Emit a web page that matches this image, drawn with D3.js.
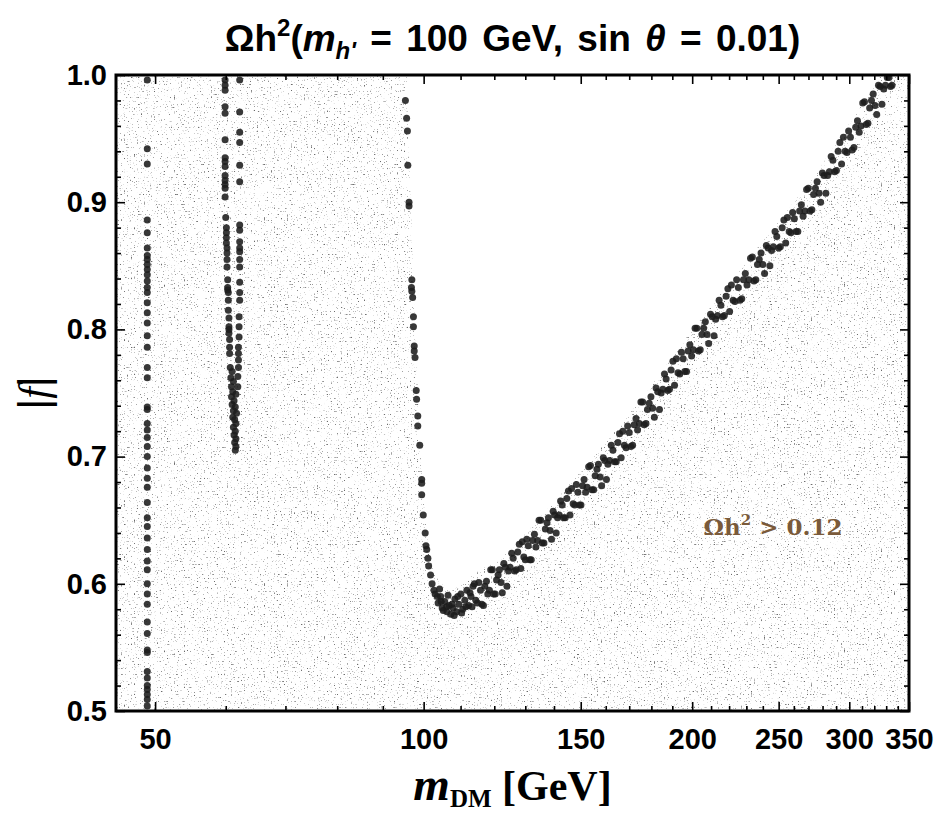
<!DOCTYPE html>
<html>
<head>
<meta charset="utf-8">
<script src="https://cdn.jsdelivr.net/npm/d3@7"></script>
<style>
  body { margin: 0; background: #fff; }
</style>
</head>
<body>
<svg id="chart"></svg>
<script>
// Relic density scan: |f| vs m_DM, points giving the right Ωh² in black

const xTicks = [50, 100, 150, 200, 250, 300, 350];
const xMinor = [60, 70, 80, 90, 110, 120, 130, 140, 160, 170, 180, 190, 210, 220, 230, 240,
                260, 270, 280, 290, 310, 320, 330, 340];
const yTicks = [0.5, 0.6, 0.7, 0.8, 0.9, 1.0];
const yMinor = [0.52, 0.54, 0.56, 0.58, 0.62, 0.64, 0.66, 0.68, 0.72, 0.74, 0.76, 0.78,
                0.82, 0.84, 0.86, 0.88, 0.92, 0.94, 0.96, 0.98];

// column near 49 GeV
const column49 = [
  [49.0, 0.996], [49.0, 0.942], [49.0, 0.930], [49.0, 0.886], [49.0, 0.876], [49.0, 0.864],
  [49.0, 0.858], [49.0, 0.855], [49.0, 0.851], [49.0, 0.847], [49.0, 0.843], [49.0, 0.838],
  [49.0, 0.833], [49.0, 0.829], [49.0, 0.821], [49.0, 0.813], [49.0, 0.805], [49.0, 0.795],
  [49.0, 0.786], [49.0, 0.770], [49.0, 0.762], [49.0, 0.739], [49.0, 0.737], [49.0, 0.726],
  [49.0, 0.721], [49.0, 0.715], [49.0, 0.708], [49.0, 0.700], [49.0, 0.691], [49.0, 0.683],
  [49.0, 0.676], [49.0, 0.664], [49.0, 0.652], [49.0, 0.645], [49.0, 0.636], [49.0, 0.627],
  [49.0, 0.618], [49.0, 0.611], [49.0, 0.600], [49.0, 0.592], [49.0, 0.584], [49.0, 0.570],
  [49.0, 0.561], [49.0, 0.548], [49.0, 0.546], [49.0, 0.531], [49.0, 0.526], [49.0, 0.520],
  [49.0, 0.517], [49.0, 0.513], [49.0, 0.509], [49.0, 0.504]
];

// two columns near 60-62 GeV
const column60 = [
  [59.9, 0.996], [59.9, 0.992], [59.9, 0.988], [59.9, 0.975], [59.9, 0.970], [59.9, 0.949],
  [59.9, 0.935], [59.9, 0.932], [59.9, 0.928], [59.9, 0.921], [59.9, 0.917], [59.9, 0.914],
  [59.9, 0.911], [59.9, 0.904], [60.0, 0.888], [60.1, 0.880], [60.1, 0.876], [60.1, 0.872],
  [60.1, 0.868], [60.2, 0.864], [60.2, 0.860], [60.2, 0.855], [60.2, 0.849], [60.3, 0.839],
  [60.3, 0.833], [60.3, 0.831], [60.4, 0.829], [60.4, 0.823], [60.4, 0.815], [60.5, 0.809],
  [60.5, 0.802], [60.5, 0.800], [60.5, 0.797], [60.6, 0.792], [60.6, 0.786], [60.6, 0.781]
];
const column62 = [
  [62.2, 0.996], [62.2, 0.971], [62.2, 0.955], [62.2, 0.947], [62.2, 0.929], [62.2, 0.916],
  [62.2, 0.882], [62.2, 0.878], [62.2, 0.869], [62.2, 0.864], [62.2, 0.861], [62.2, 0.855],
  [62.2, 0.849], [62.2, 0.837], [62.2, 0.829], [62.2, 0.823], [62.1, 0.810], [62.1, 0.802],
  [62.1, 0.794], [62.0, 0.786], [62.0, 0.781], [62.0, 0.776], [62.0, 0.770], [61.9, 0.763],
  [61.9, 0.755]
];
const cluster61 = [
  [60.7, 0.770], [61.0, 0.767], [60.8, 0.762], [61.2, 0.759], [60.9, 0.755], [61.1, 0.751],
  [61.6, 0.749], [60.9, 0.747], [61.3, 0.744], [61.0, 0.741], [61.5, 0.739], [61.2, 0.736],
  [61.7, 0.734], [61.1, 0.731], [61.4, 0.729], [61.6, 0.726], [61.2, 0.723], [61.5, 0.720],
  [61.3, 0.717], [61.6, 0.714], [61.4, 0.711], [61.6, 0.708], [61.5, 0.705]
];

// V-shaped band around the m_h' = 100 GeV resonance
const bandLeft = [
  [95.4, 0.980], [95.7, 0.966], [95.9, 0.956], [96.0, 0.929], [96.3, 0.900], [96.3, 0.897],
  [97.0, 0.839], [96.9, 0.833], [97.0, 0.830], [97.2, 0.825], [97.4, 0.810], [97.4, 0.802],
  [97.6, 0.787], [97.6, 0.783], [97.8, 0.778], [98.1, 0.752], [98.2, 0.745], [98.5, 0.732],
  [98.5, 0.724], [99.0, 0.709], [99.5, 0.682], [99.5, 0.679], [99.5, 0.670], [99.9, 0.654],
  [100.4, 0.640], [100.6, 0.630], [100.8, 0.627], [101.1, 0.620], [101.3, 0.614], [101.8, 0.607],
  [102.2, 0.600], [102.7, 0.595], [103.6, 0.590], [104.6, 0.586], [106.1, 0.582]
];
const bandBottom = [
  [103.0, 0.592], [103.8, 0.585], [104.2, 0.596], [104.5, 0.590], [104.9, 0.581], [105.2, 0.579],
  [105.6, 0.586], [106.2, 0.578], [106.5, 0.591], [106.8, 0.583], [107.3, 0.576], [107.6, 0.584],
  [107.9, 0.581], [108.2, 0.575], [108.4, 0.588], [108.9, 0.578], [109.2, 0.590], [109.5, 0.584],
  [110.1, 0.592], [110.3, 0.577], [110.6, 0.580], [111.2, 0.587], [111.5, 0.582], [111.8, 0.595],
  [112.3, 0.583], [112.7, 0.593], [113.0, 0.590], [113.3, 0.582], [113.6, 0.598]
];
const bandRise = [
  [114.0, 0.600], [114.9, 0.585], [115.8, 0.595], [116.7, 0.583], [117.6, 0.602], [118.5, 0.595],
  [119.4, 0.611], [120.3, 0.592], [121.2, 0.607], [122.1, 0.601], [123.0, 0.616], [124.0, 0.598],
  [125.0, 0.613], [126.0, 0.620], [127.0, 0.611], [128.0, 0.631], [129.0, 0.633], [130.0, 0.619],
  [131.0, 0.630], [132.0, 0.619], [133.1, 0.639], [134.2, 0.634], [135.3, 0.650], [136.4, 0.632],
  [137.5, 0.648], [138.6, 0.642], [139.7, 0.657], [140.8, 0.640], [141.9, 0.654], [143.0, 0.662],
  [144.1, 0.652], [145.3, 0.673], [146.5, 0.675], [147.7, 0.662], [148.9, 0.672], [150.1, 0.662],
  [151.3, 0.682], [152.5, 0.676], [153.8, 0.693], [155.1, 0.674], [156.4, 0.690], [157.7, 0.684],
  [159.0, 0.699], [160.3, 0.682], [161.6, 0.697], [163.0, 0.705], [164.4, 0.696], [165.8, 0.718],
  [167.2, 0.720], [168.6, 0.707], [170.0, 0.719], [171.5, 0.709], [173.0, 0.730], [174.5, 0.726],
  [176.0, 0.743], [177.5, 0.726], [179.0, 0.742], [180.6, 0.738], [182.2, 0.754], [183.8, 0.737],
  [185.4, 0.753], [187.0, 0.761], [188.6, 0.753], [190.3, 0.775], [192.0, 0.777], [193.7, 0.765],
  [195.4, 0.777], [197.1, 0.767], [198.8, 0.788], [200.6, 0.784], [202.4, 0.801], [204.2, 0.784],
  [206.0, 0.801], [207.8, 0.796], [209.7, 0.812], [211.6, 0.795], [213.5, 0.811], [215.4, 0.819],
  [217.3, 0.811], [219.3, 0.832], [221.3, 0.835], [223.3, 0.822], [225.3, 0.833], [227.3, 0.824],
  [229.4, 0.844], [231.5, 0.839], [233.6, 0.857], [235.7, 0.839], [237.8, 0.855], [240.0, 0.851],
  [242.2, 0.866], [244.4, 0.850], [246.6, 0.865], [248.8, 0.873], [251.1, 0.865], [253.4, 0.886],
  [255.7, 0.888], [258.0, 0.876], [260.3, 0.887], [262.7, 0.877], [265.1, 0.898], [267.5, 0.893],
  [269.9, 0.911], [272.4, 0.894], [274.9, 0.911], [277.4, 0.907], [279.9, 0.923], [282.4, 0.907],
  [285.0, 0.924], [287.6, 0.933], [290.2, 0.925], [292.8, 0.947], [295.5, 0.951], [298.2, 0.939],
  [300.9, 0.951], [303.6, 0.943], [306.4, 0.964], [309.2, 0.960], [312.0, 0.979], [314.8, 0.962],
  [317.7, 0.980], [320.6, 0.976], [323.5, 0.992], [326.4, 0.977], [329.4, 0.992], [332.4, 0.998],
  [335.0, 0.992],
  [114.4, 0.587], [115.3, 0.601], [116.2, 0.584], [117.1, 0.598], [118.0, 0.592], [118.9, 0.611],
  [119.8, 0.592], [120.7, 0.603], [121.6, 0.611], [122.5, 0.593], [123.5, 0.613], [124.5, 0.610],
  [125.5, 0.624], [126.5, 0.610], [127.5, 0.625], [128.5, 0.612], [129.5, 0.621], [130.5, 0.635],
  [131.5, 0.619], [132.5, 0.634], [133.6, 0.629], [134.7, 0.650], [135.8, 0.632], [136.9, 0.643],
  [138.0, 0.652], [139.1, 0.635], [140.2, 0.654], [141.3, 0.652], [142.4, 0.665], [143.5, 0.652],
  [144.7, 0.667], [145.9, 0.654], [147.1, 0.663], [148.3, 0.678], [149.5, 0.662], [150.7, 0.677],
  [151.9, 0.672], [153.1, 0.692], [154.4, 0.674], [155.7, 0.685], [157.0, 0.694], [158.3, 0.677],
  [159.6, 0.697], [160.9, 0.694], [162.3, 0.709], [163.7, 0.696], [165.1, 0.711], [166.5, 0.699],
  [167.9, 0.709], [169.3, 0.724], [170.7, 0.708], [172.2, 0.725], [173.7, 0.721], [175.2, 0.743],
  [176.7, 0.725], [178.2, 0.737], [179.8, 0.747], [181.4, 0.731], [183.0, 0.751], [184.6, 0.750],
  [186.2, 0.765], [187.8, 0.752], [189.4, 0.768], [191.1, 0.756], [192.8, 0.766], [194.5, 0.782],
  [196.2, 0.767], [197.9, 0.783], [199.7, 0.779], [201.5, 0.801], [203.3, 0.783], [205.1, 0.796],
  [206.9, 0.806], [208.7, 0.789], [210.6, 0.810], [212.5, 0.808], [214.4, 0.823], [216.3, 0.810],
  [218.3, 0.826], [220.3, 0.814], [222.3, 0.823], [224.3, 0.839], [226.3, 0.823], [228.3, 0.839],
  [230.4, 0.835], [232.5, 0.856], [234.6, 0.838], [236.7, 0.851], [238.9, 0.860], [241.1, 0.844],
  [243.3, 0.864], [245.5, 0.862], [247.7, 0.877], [250.0, 0.864], [252.3, 0.880], [254.6, 0.868],
  [256.9, 0.877], [259.2, 0.892], [261.5, 0.877], [263.9, 0.893], [266.3, 0.889], [268.7, 0.910],
  [271.1, 0.893], [273.6, 0.906], [276.1, 0.916], [278.6, 0.900], [281.1, 0.921], [283.7, 0.921],
  [286.3, 0.936], [288.9, 0.924], [291.5, 0.940], [294.1, 0.930], [296.8, 0.940], [299.5, 0.956],
  [302.2, 0.941], [305.0, 0.959], [307.8, 0.955], [310.6, 0.978], [313.4, 0.961], [316.2, 0.974],
  [319.1, 0.985], [322.0, 0.969], [324.9, 0.991], [327.9, 0.989], [330.9, 0.998], [333.7, 0.991]
];

// edge of the under-abundant (empty) region
const emptyEdge = [
  [95.8, 1.0], [95.8, 0.98], [96.3, 0.93], [96.7, 0.90], [97.4, 0.84], [97.8, 0.80],
  [98.5, 0.75], [99.0, 0.71], [99.9, 0.67], [100.6, 0.645], [101.5, 0.625], [102.5, 0.612],
  [104, 0.602], [106, 0.597], [108, 0.596], [111, 0.601], [114, 0.608], [120, 0.617],
  [126, 0.629], [135, 0.652], [150, 0.688], [175, 0.744], [200, 0.800], [236, 0.863],
  [272, 0.917], [302, 0.965], [326, 1.0]
];

const width = 938, height = 815;
const plotL = 116, plotR = 909, plotT = 75, plotB = 711;

const svg = d3.select("#chart").attr("width", width).attr("height", height);

const x = d3.scaleLog().domain([45.2, 350]).range([plotL, plotR]);
const y = d3.scaleLinear().domain([0.5, 1.0]).range([plotB, plotT]);

const defs = svg.append("defs");

// speckle texture standing in for the dense over-abundant scan
const filt = defs.append("filter")
    .attr("id", "speckle")
    .attr("x", 0).attr("y", 0).attr("width", 1).attr("height", 1)
    .attr("color-interpolation-filters", "sRGB");
filt.append("feTurbulence")
    .attr("type", "fractalNoise")
    .attr("baseFrequency", 0.7)
    .attr("numOctaves", 1)
    .attr("seed", 11)
    .attr("result", "noise");
filt.append("feColorMatrix")
    .attr("in", "noise")
    .attr("type", "matrix")
    .attr("values", "0 0 0 0 0.42  0 0 0 0 0.42  0 0 0 0 0.42  7 0 0 0 -4.45");

const edgeLine = d3.line().x(d => x(d[0])).y(d => y(d[1]));
const outer = `M${plotL},${plotT}H${plotR}V${plotB}H${plotL}Z`;
defs.append("clipPath").attr("id", "greyClip")
  .append("path")
    .attr("clip-rule", "evenodd")
    .attr("d", outer + edgeLine(emptyEdge) + "Z");

svg.append("rect")
    .attr("x", plotL).attr("y", plotT)
    .attr("width", plotR - plotL).attr("height", plotB - plotT)
    .attr("fill", "#fff")
    .attr("filter", "url(#speckle)")
    .attr("clip-path", "url(#greyClip)");

// black points
const allPoints = [].concat(column49, column60, column62, cluster61, bandLeft, bandBottom, bandRise);
svg.append("g")
  .selectAll("circle")
  .data(allPoints)
  .enter().append("circle")
    .attr("cx", d => x(d[0]))
    .attr("cy", d => y(d[1]))
    .attr("r", 3.5)
    .attr("fill", "#1c1c1c")
    .attr("fill-opacity", 0.88);

// axes (ticks inward on all four sides)
function styleAxis(g) {
  g.select(".domain").remove();
  g.selectAll(".tick line").attr("stroke", "#000").attr("stroke-width", 1.6);
  g.selectAll(".tick text")
    .attr("fill", "#000")
    .style("font-family", "'Liberation Sans', Arial, sans-serif")
    .style("font-weight", "bold")
    .style("font-size", "29px");
}

svg.append("g").attr("transform", `translate(0,${plotB})`)
  .call(d3.axisBottom(x).tickValues(xTicks).tickFormat(d3.format("d"))
    .tickSizeInner(-9).tickSizeOuter(0).tickPadding(17))
  .call(styleAxis);
svg.append("g").attr("transform", `translate(0,${plotB})`)
  .call(d3.axisBottom(x).tickValues(xMinor).tickFormat("").tickSizeInner(-5).tickSizeOuter(0))
  .call(styleAxis);
svg.append("g").attr("transform", `translate(0,${plotT})`)
  .call(d3.axisTop(x).tickValues(xTicks).tickFormat("").tickSizeInner(-9).tickSizeOuter(0))
  .call(styleAxis);
svg.append("g").attr("transform", `translate(0,${plotT})`)
  .call(d3.axisTop(x).tickValues(xMinor).tickFormat("").tickSizeInner(-5).tickSizeOuter(0))
  .call(styleAxis);

svg.append("g").attr("transform", `translate(${plotL},0)`)
  .call(d3.axisLeft(y).tickValues(yTicks).tickFormat(d3.format(".1f"))
    .tickSizeInner(-9).tickSizeOuter(0).tickPadding(9))
  .call(styleAxis);
svg.append("g").attr("transform", `translate(${plotL},0)`)
  .call(d3.axisLeft(y).tickValues(yMinor).tickFormat("").tickSizeInner(-5).tickSizeOuter(0))
  .call(styleAxis);
svg.append("g").attr("transform", `translate(${plotR},0)`)
  .call(d3.axisRight(y).tickValues(yTicks).tickFormat("").tickSizeInner(-9).tickSizeOuter(0))
  .call(styleAxis);
svg.append("g").attr("transform", `translate(${plotR},0)`)
  .call(d3.axisRight(y).tickValues(yMinor).tickFormat("").tickSizeInner(-5).tickSizeOuter(0))
  .call(styleAxis);

// frame
svg.append("rect")
    .attr("x", plotL).attr("y", plotT)
    .attr("width", plotR - plotL).attr("height", plotB - plotT)
    .attr("fill", "none")
    .attr("stroke", "#000")
    .attr("stroke-width", 3);

// title
const title = svg.append("text")
    .attr("x", (plotL + plotR) / 2).attr("y", 51)
    .attr("text-anchor", "middle")
    .style("font-family", "'Liberation Sans', Arial, sans-serif")
    .style("font-weight", "bold")
    .style("font-size", "37px")
    .style("word-spacing", "4px");
title.append("tspan").text("Ωh");
title.append("tspan").attr("dy", -15).style("font-size", "24px").text("2");
title.append("tspan").attr("dy", 15).text("(");
title.append("tspan").style("font-style", "italic").text("m");
title.append("tspan").attr("dy", 8).style("font-size", "24px").style("font-style", "italic").text("h'");
title.append("tspan").attr("dy", -8).text(" = 100 GeV, sin ");
title.append("tspan").style("font-style", "italic").text("θ");
title.append("tspan").text(" = 0.01)");

// x label
const xl = svg.append("text")
    .attr("x", (plotL + plotR) / 2).attr("y", 800)
    .attr("text-anchor", "middle")
    .style("font-family", "'Liberation Serif', 'Times New Roman', serif")
    .style("font-weight", "bold");
xl.append("tspan").style("font-style", "italic").style("font-size", "47px").text("m");
xl.append("tspan").attr("dy", 7).style("font-size", "25px").text("DM");
xl.append("tspan").attr("dy", -7).style("font-size", "42px").text(" [GeV]");

// y label
const yl = svg.append("text")
    .attr("transform", `translate(48,${(plotT + plotB) / 2}) rotate(-90)`)
    .attr("text-anchor", "middle")
    .style("font-size", "42px");
yl.append("tspan").style("font-family", "'Liberation Sans', Arial, sans-serif").text("|");
yl.append("tspan").style("font-family", "'Liberation Serif', serif").style("font-style", "italic").text("f");
yl.append("tspan").style("font-family", "'Liberation Sans', Arial, sans-serif").text("|");

// region annotation
const ann = svg.append("text")
    .attr("x", 773).attr("y", 535)
    .attr("text-anchor", "middle")
    .attr("fill", "#7a5a3a")
    .style("font-family", "'DejaVu Serif', serif")
    .style("font-weight", "bold")
    .style("font-size", "23px");
ann.append("tspan").text("Ωh");
ann.append("tspan").attr("dy", -10).style("font-size", "15px").text("2");
ann.append("tspan").attr("dy", 10).text(" > 0.12");
</script>
</body>
</html>
